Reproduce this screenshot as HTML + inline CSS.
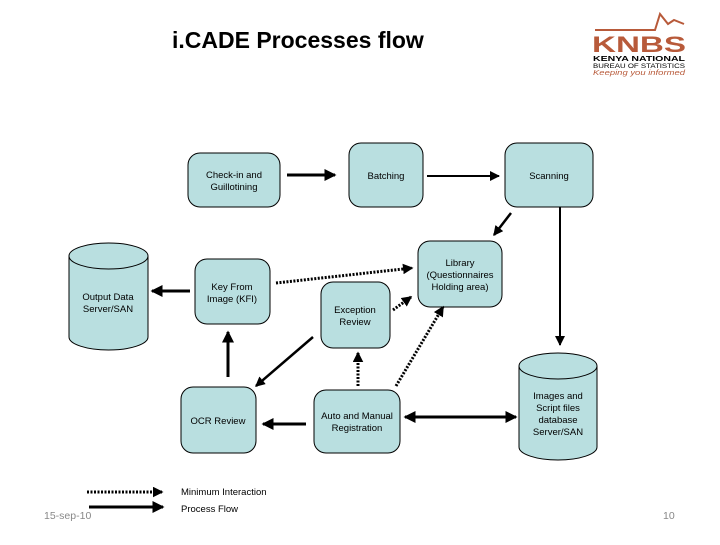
<!DOCTYPE html>
<html><head><meta charset="utf-8"><style>
body{margin:0;background:#fff;width:720px;height:540px;overflow:hidden;font-family:"Liberation Sans",sans-serif}
</style></head><body>
<svg width="720" height="540" xmlns="http://www.w3.org/2000/svg" font-family="Liberation Sans, sans-serif">
<defs>
<marker id="a" markerWidth="4" markerHeight="4" refX="3.5" refY="2" orient="auto-start-reverse" markerUnits="strokeWidth"><path d="M0,0 L4,2 L0,4 z" fill="#000"/></marker>
<marker id="c" markerWidth="5" markerHeight="5" refX="4.5" refY="2.5" orient="auto" markerUnits="strokeWidth"><path d="M0,0 L5,2.5 L0,5 z" fill="#000"/></marker>
<marker id="b" markerWidth="3.5" markerHeight="3.5" refX="3" refY="1.75" orient="auto" markerUnits="strokeWidth"><path d="M0,0 L3.5,1.75 L0,3.5 z" fill="#000"/></marker>
</defs>
<text x="172" y="48" font-size="23" font-weight="bold">i.CADE  Processes flow</text>
<polyline points="595,30 655,30 660,14 668,24 674,20 684,24" fill="none" stroke="#b85a3a" stroke-width="2"/>
<text x="592" y="52" font-size="22" font-weight="bold" fill="#b85a3a" textLength="94" lengthAdjust="spacingAndGlyphs">KNBS</text>
<text x="593" y="61" font-size="7" font-weight="bold" textLength="92" lengthAdjust="spacingAndGlyphs">KENYA NATIONAL</text>
<text x="593" y="68" font-size="6" textLength="92" lengthAdjust="spacingAndGlyphs">BUREAU OF STATISTICS</text>
<text x="593" y="75" font-size="7" font-style="italic" fill="#b85a3a" textLength="92" lengthAdjust="spacingAndGlyphs">Keeping you informed</text>
<g fill="#b9dfe0" stroke="#000" stroke-width="1">
<rect x="188" y="153" width="92" height="54" rx="12"/>
<rect x="349" y="143" width="74" height="64" rx="12"/>
<rect x="505" y="143" width="88" height="64" rx="12"/>
<rect x="418" y="241" width="84" height="66" rx="12"/>
<rect x="195" y="259" width="75" height="65" rx="12"/>
<rect x="321" y="282" width="69" height="66" rx="12"/>
<rect x="181" y="387" width="75" height="66" rx="12"/>
<rect x="314" y="390" width="86" height="63" rx="12"/>
<path d="M69,256 V337 A39.5,13 0 0 0 148,337 V256"/>
<ellipse cx="108.5" cy="256" rx="39.5" ry="13"/>
<path d="M519,366 V447 A39,13 0 0 0 597,447 V366"/>
<ellipse cx="558" cy="366" rx="39" ry="13"/>
</g>
<g font-size="9.5" text-anchor="middle" fill="#000">
<text x="234" y="178">Check-in and</text><text x="234" y="190">Guillotining</text>
<text x="386" y="179">Batching</text>
<text x="549" y="179">Scanning</text>
<text x="460" y="266">Library</text><text x="460" y="278">(Questionnaires</text><text x="460" y="290">Holding area)</text>
<text x="232" y="290">Key From</text><text x="232" y="302">Image (KFI)</text>
<text x="355" y="313">Exception</text><text x="355" y="325">Review</text>
<text x="218" y="424">OCR Review</text>
<text x="357" y="419">Auto and Manual</text><text x="357" y="431">Registration</text>
<text x="108" y="300">Output Data</text><text x="108" y="312">Server/SAN</text>
<text x="558" y="399">Images and</text><text x="558" y="411">Script files</text><text x="558" y="423">database</text><text x="558" y="435">Server/SAN</text>
</g>
<g stroke="#000" stroke-width="3" fill="none" marker-end="url(#a)">
<line x1="287" y1="175" x2="335" y2="175"/>
<line x1="427" y1="176" x2="499" y2="176" stroke-width="2" marker-end="url(#c)"/>
<line x1="511" y1="213" x2="494" y2="235" stroke-width="2.5"/>
<line x1="560" y1="207" x2="560" y2="345" stroke-width="2" marker-end="url(#c)"/>
<line x1="190" y1="291" x2="152" y2="291"/>
<line x1="228" y1="377" x2="228" y2="332"/>
<line x1="313" y1="337" x2="256" y2="386" stroke-width="2.5"/>
<line x1="306" y1="424" x2="263" y2="424"/>
<line x1="89" y1="507" x2="163" y2="507"/>
<line x1="405" y1="417" x2="516" y2="417" marker-start="url(#a)"/>
</g>
<g stroke="#000" stroke-width="3" fill="none" stroke-dasharray="2,1.5" marker-end="url(#b)">
<line x1="276" y1="283" x2="412" y2="268"/>
<line x1="393" y1="310" x2="411" y2="297"/>
<line x1="358" y1="386" x2="358" y2="353"/>
<line x1="396" y1="386" x2="443" y2="307"/>
<line x1="87" y1="492" x2="162" y2="492"/>
</g>
<g font-size="9.5" fill="#000">
<text x="181" y="495">Minimum Interaction</text>
<text x="181" y="512">Process Flow</text>
</g>
<text x="44" y="519" font-size="10.5" fill="#888">15-sep-10</text>
<text x="663" y="519" font-size="10.5" fill="#888">10</text>
</svg>
</body></html>
